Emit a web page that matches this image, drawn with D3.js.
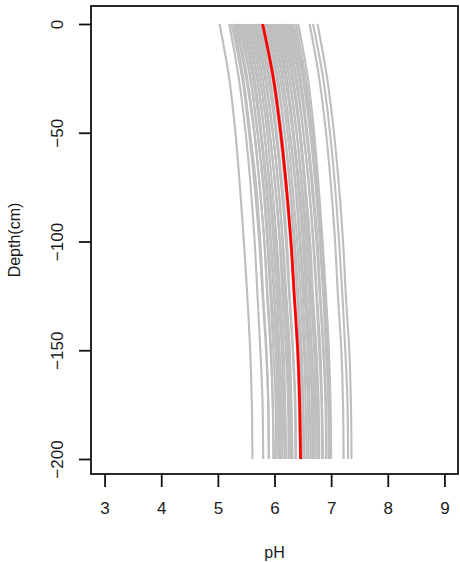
<!DOCTYPE html>
<html>
<head>
<meta charset="utf-8">
<script src="https://cdn.jsdelivr.net/npm/d3@7"></script>
<style>
html,body{margin:0;padding:0;background:#fff;}
svg{display:block;}
text{font-family:"Liberation Sans",Arial,sans-serif;fill:#1a1a1a;}
</style>
</head>
<body>
<svg id="chart" width="460" height="562"></svg>
<script>
// depths (cm, negative downward)
const depths = [0, -25, -50, -75, -100, -125, -150, -175, -200];
const xTicks = [3, 4, 5, 6, 7, 8, 9];
const yTicks = [0, -50, -100, -150, -200];
const xTitle = "pH";
const yTitle = "Depth(cm)";

// mean profile (red)
const meanPH = [5.79, 5.98, 6.11, 6.21, 6.29, 6.35, 6.41, 6.445, 6.46];

// simulated profiles (gray), values at each depth
const simPH = [
  [5.03, 5.20, 5.31, 5.39, 5.46, 5.52, 5.57, 5.60, 5.61],
  [5.20, 5.37, 5.49, 5.58, 5.65, 5.70, 5.75, 5.79, 5.80],
  [5.24, 5.43, 5.55, 5.65, 5.73, 5.79, 5.85, 5.89, 5.90],
  [5.28, 5.45, 5.57, 5.68, 5.75, 5.80, 5.86, 5.89, 5.90],
  [5.31, 5.50, 5.64, 5.74, 5.82, 5.88, 5.94, 5.97, 5.99],
  [5.34, 5.52, 5.65, 5.74, 5.82, 5.87, 5.93, 5.97, 5.98],
  [5.37, 5.57, 5.70, 5.81, 5.89, 5.95, 6.02, 6.05, 6.07],
  [5.40, 5.58, 5.70, 5.80, 5.87, 5.93, 5.98, 6.02, 6.03],
  [5.43, 5.62, 5.75, 5.85, 5.93, 5.99, 6.05, 6.08, 6.10],
  [5.46, 5.65, 5.77, 5.87, 5.94, 6.00, 6.06, 6.10, 6.11],
  [5.49, 5.69, 5.82, 5.92, 6.01, 6.07, 6.13, 6.16, 6.18],
  [5.52, 5.70, 5.82, 5.91, 5.98, 6.04, 6.09, 6.13, 6.14],
  [5.55, 5.74, 5.87, 5.96, 6.04, 6.10, 6.16, 6.19, 6.21],
  [5.58, 5.78, 5.91, 6.02, 6.10, 6.17, 6.23, 6.26, 6.28],
  [5.61, 5.79, 5.92, 6.01, 6.09, 6.14, 6.20, 6.24, 6.25],
  [5.64, 5.83, 5.97, 6.07, 6.15, 6.21, 6.27, 6.30, 6.32],
  [5.67, 5.85, 5.97, 6.07, 6.14, 6.20, 6.25, 6.29, 6.30],
  [5.70, 5.89, 6.02, 6.12, 6.20, 6.26, 6.32, 6.36, 6.37],
  [5.73, 5.92, 6.04, 6.14, 6.22, 6.27, 6.33, 6.37, 6.38],
  [5.76, 5.96, 6.09, 6.19, 6.28, 6.34, 6.40, 6.43, 6.45],
  [5.82, 6.00, 6.13, 6.22, 6.30, 6.35, 6.41, 6.45, 6.46],
  [5.85, 6.04, 6.18, 6.28, 6.36, 6.42, 6.48, 6.51, 6.53],
  [5.88, 6.06, 6.18, 6.27, 6.34, 6.40, 6.45, 6.49, 6.50],
  [5.91, 6.10, 6.23, 6.32, 6.40, 6.46, 6.52, 6.55, 6.57],
  [5.94, 6.14, 6.27, 6.38, 6.46, 6.53, 6.59, 6.62, 6.64],
  [5.97, 6.15, 6.27, 6.37, 6.44, 6.50, 6.55, 6.59, 6.60],
  [6.00, 6.19, 6.32, 6.42, 6.50, 6.56, 6.62, 6.66, 6.67],
  [6.03, 6.22, 6.34, 6.44, 6.52, 6.57, 6.63, 6.67, 6.68],
  [6.06, 6.26, 6.39, 6.49, 6.58, 6.64, 6.70, 6.73, 6.75],
  [6.09, 6.27, 6.39, 6.48, 6.55, 6.61, 6.66, 6.70, 6.71],
  [6.12, 6.31, 6.44, 6.53, 6.61, 6.67, 6.73, 6.76, 6.78],
  [6.15, 6.33, 6.46, 6.55, 6.63, 6.68, 6.74, 6.78, 6.79],
  [6.18, 6.37, 6.51, 6.61, 6.69, 6.75, 6.81, 6.84, 6.86],
  [6.21, 6.39, 6.51, 6.61, 6.68, 6.74, 6.79, 6.83, 6.84],
  [6.24, 6.43, 6.56, 6.66, 6.74, 6.80, 6.86, 6.90, 6.91],
  [6.27, 6.46, 6.58, 6.68, 6.76, 6.81, 6.87, 6.91, 6.92],
  [6.30, 6.50, 6.63, 6.73, 6.82, 6.88, 6.94, 6.97, 6.99],
  [6.34, 6.52, 6.64, 6.73, 6.80, 6.86, 6.91, 6.95, 6.96],
  [6.38, 6.55, 6.67, 6.76, 6.83, 6.88, 6.94, 6.97, 6.98],
  [6.42, 6.59, 6.70, 6.78, 6.85, 6.91, 6.96, 6.99, 7.00],
  [6.62, 6.79, 6.91, 7.00, 7.07, 7.12, 7.18, 7.21, 7.22],
  [6.68, 6.86, 6.98, 7.07, 7.14, 7.20, 7.25, 7.29, 7.30],
  [6.76, 6.93, 7.05, 7.14, 7.21, 7.26, 7.32, 7.35, 7.36]
];

const svg = d3.select("#chart");
const box = {left: 91, right: 458, top: 6, bottom: 474};

const x = d3.scaleLinear().domain([2.76, 9.24]).range([box.left, box.right]);
const y = d3.scaleLinear().domain([0, -200]).range([24, 459]);

const line = d3.line()
  .x(d => x(d[0]))
  .y(d => y(d[1]))
  .curve(d3.curveMonotoneY);

const toPts = vals => vals.map((v, i) => [v, depths[i]]);

svg.append("g")
  .selectAll("path")
  .data(simPH)
  .join("path")
  .attr("d", d => line(toPts(d)))
  .attr("fill", "none")
  .attr("stroke", "#bebebe")
  .attr("stroke-width", 2.1);

svg.append("path")
  .attr("d", line(toPts(meanPH)))
  .attr("fill", "none")
  .attr("stroke", "#ff0000")
  .attr("stroke-width", 2.8);

// box
svg.append("rect")
  .attr("x", box.left).attr("y", box.top)
  .attr("width", box.right - box.left).attr("height", box.bottom - box.top)
  .attr("fill", "none").attr("stroke", "#111").attr("stroke-width", 1.8);

// x axis
const xAxis = d3.axisBottom(x).tickValues(xTicks).tickSize(13).tickPadding(15)
  .tickFormat(d3.format("d"));
const gx = svg.append("g").attr("transform", `translate(0,${box.bottom})`).call(xAxis);
gx.select(".domain").remove();
gx.selectAll(".tick line").attr("stroke", "#111").attr("stroke-width", 1.8);
gx.selectAll(".tick text").attr("font-size", 17).attr("font-family", "Liberation Sans, Arial, sans-serif").attr("fill", "#1a1a1a");

// y axis
const yAxis = d3.axisLeft(y).tickValues(yTicks).tickSize(12).tickPadding(0)
  .tickFormat(d => d === 0 ? "0" : "\u2212" + Math.abs(d));
const gy = svg.append("g").attr("transform", `translate(${box.left},0)`).call(yAxis);
gy.select(".domain").remove();
gy.selectAll(".tick line").attr("stroke", "#111").attr("stroke-width", 1.8);
gy.selectAll(".tick text")
  .attr("font-size", 17).attr("font-family", "Liberation Sans, Arial, sans-serif").attr("fill", "#1a1a1a")
  .attr("x", null).attr("dy", null)
  .attr("text-anchor", "middle")
  .attr("transform", `translate(${57 - box.left + 6},0) rotate(-90)`);

// titles
svg.append("text")
  .attr("x", (box.left + box.right) / 2).attr("y", 558)
  .attr("text-anchor", "middle").attr("font-size", 16)
  .text(xTitle);

svg.append("text")
  .attr("transform", `translate(20,${(box.top + box.bottom) / 2}) rotate(-90)`)
  .attr("text-anchor", "middle").attr("font-size", 16)
  .text(yTitle);
</script>
</body>
</html>
